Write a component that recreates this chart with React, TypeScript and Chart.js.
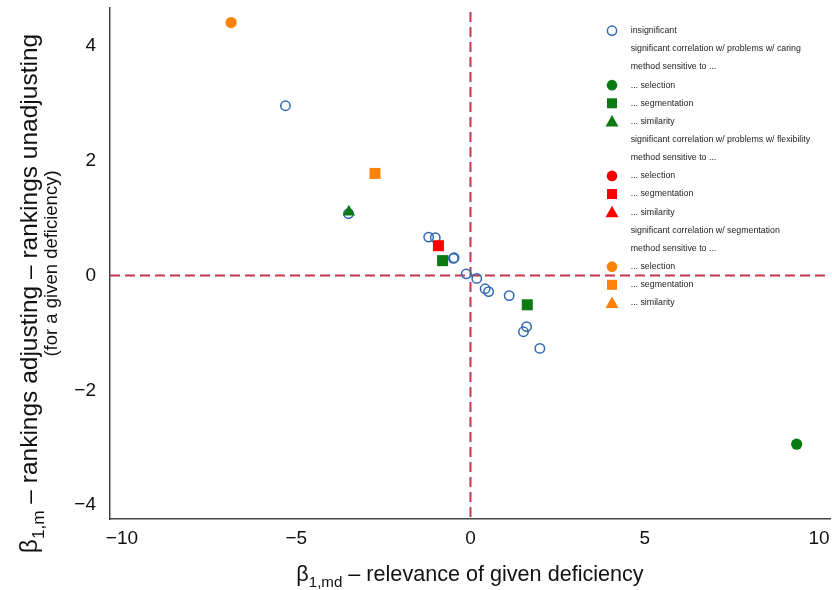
import { useEffect, useRef } from 'react';
import { Chart, registerables } from 'chart.js';

Chart.register(...registerables);

// ---- data ----
const xTickValues = [-10, -5, 0, 5, 10];
const yTickValues = [-4, -2, 0, 2, 4];

const insignificantX = [-5.31, -3.5, -1.2, -1.01, -0.49, -0.47, -0.12, 0.18, 0.42, 0.52, 1.11, 1.61, 1.52, 1.99];
const insignificantY = [2.96, 1.08, 0.67, 0.66, 0.3, 0.31, 0.03, -0.05, -0.23, -0.28, -0.35, -0.89, -0.98, -1.27];

const caringSelectionX = [9.36];
const caringSelectionY = [-2.94];
const caringSegmentationX = [-0.8, 1.63];
const caringSegmentationY = [0.26, -0.51];
const caringSimilarityX = [-3.49];
const caringSimilarityY = [1.11];

const flexSelectionX: number[] = [];
const flexSelectionY: number[] = [];
const flexSegmentationX = [-0.92];
const flexSegmentationY = [0.52];
const flexSimilarityX: number[] = [];
const flexSimilarityY: number[] = [];

const segSelectionX = [-6.87];
const segSelectionY = [4.41];
const segSegmentationX = [-2.74];
const segSegmentationY = [1.78];
const segSimilarityX: number[] = [];
const segSimilarityY: number[] = [];

const legendLabels = [
  'insignificant',
  'significant correlation w/ problems w/ caring',
  'method sensitive to ...',
  '... selection',
  '... segmentation',
  '... similarity',
  'significant correlation w/ problems w/ flexibility',
  'method sensitive to ...',
  '... selection',
  '... segmentation',
  '... similarity',
  'significant correlation w/ segmentation',
  'method sensitive to ...',
  '... selection',
  '... segmentation',
  '... similarity',
];
const legendMarkers = ['open', '', '', 'circle', 'square', 'triangle', '', '', 'circle', 'square', 'triangle', '', '', 'circle', 'square', 'triangle'];

// ---- styles ----
const FONT = '"Liberation Sans", Arial, Helvetica, sans-serif';
const BLUE = '#2F67B1';
const GREEN = '#0B7A12';
const RED = '#FF0000';
const ORANGE = '#FF8207';
const DASH = '#C4364C';
const AXIS = '#444444';
const legendColors = [BLUE, '', '', GREEN, GREEN, GREEN, '', '', RED, RED, RED, '', '', ORANGE, ORANGE, ORANGE];

const toPoints = (xs: number[], ys: number[]) => xs.map((x, i) => ({ x, y: ys[i] }));
const fmt = (v: number | string) => {
  const n = Number(v);
  return n < 0 ? '\u2212' + Math.abs(n) : String(n);
};

function drawMarker(ctx: CanvasRenderingContext2D, kind: string, color: string, x: number, y: number) {
  ctx.save();
  if (kind === 'open') {
    ctx.strokeStyle = color;
    ctx.lineWidth = 1.5;
    ctx.beginPath();
    ctx.arc(x, y, 4.6, 0, Math.PI * 2);
    ctx.stroke();
  } else if (kind === 'circle') {
    ctx.fillStyle = color;
    ctx.beginPath();
    ctx.arc(x, y, 5.3, 0, Math.PI * 2);
    ctx.fill();
  } else if (kind === 'square') {
    ctx.fillStyle = color;
    ctx.fillRect(x - 5, y - 5, 10, 10);
  } else if (kind === 'triangle') {
    ctx.fillStyle = color;
    ctx.beginPath();
    ctx.moveTo(x, y - 6.5);
    ctx.lineTo(x + 6.5, y + 5);
    ctx.lineTo(x - 6.5, y + 5);
    ctx.closePath();
    ctx.fill();
  }
  ctx.restore();
}

const refLinesPlugin = {
  id: 'refLines',
  beforeDatasetsDraw(chart: any) {
    const { ctx, chartArea, scales } = chart;
    const x0 = scales.x.getPixelForValue(0);
    const y0 = scales.y.getPixelForValue(0);
    ctx.save();
    ctx.strokeStyle = DASH;
    ctx.lineWidth = 2;
    ctx.setLineDash([10, 5]);
    ctx.beginPath();
    ctx.moveTo(chartArea.left, y0);
    ctx.lineTo(chartArea.right, y0);
    ctx.stroke();
    ctx.beginPath();
    ctx.moveTo(x0, chartArea.top + 4);
    ctx.lineTo(x0, chartArea.bottom);
    ctx.stroke();
    ctx.restore();
  },
};

function drawSubLabel(ctx: CanvasRenderingContext2D, main: string, sub: string, rest: string, cx: number, baseY: number, fs: number) {
  const big = `${fs}px ${FONT}`;
  const small = `${fs * 0.7}px ${FONT}`;
  ctx.font = big;
  const w1 = ctx.measureText(main).width;
  const w3 = ctx.measureText(rest).width;
  ctx.font = small;
  const w2 = ctx.measureText(sub).width;
  let x = cx - (w1 + w2 + w3) / 2;
  ctx.textAlign = 'left';
  ctx.textBaseline = 'alphabetic';
  ctx.font = big;
  ctx.fillText(main, x, baseY);
  x += w1;
  ctx.font = small;
  ctx.fillText(sub, x, baseY + fs * 0.3);
  x += w2;
  ctx.font = big;
  ctx.fillText(rest, x, baseY);
}

const titlesPlugin = {
  id: 'titles',
  afterDraw(chart: any) {
    const { ctx, chartArea } = chart;
    const cx = (chartArea.left + chartArea.right) / 2;
    const cy = (chartArea.top + chartArea.bottom) / 2;
    ctx.save();
    ctx.fillStyle = '#111';
    drawSubLabel(ctx, '\u03B2', '1,md', ' \u2013 relevance of given deficiency', cx, 581, 21.6);
    ctx.restore();

    ctx.save();
    ctx.fillStyle = '#111';
    ctx.translate(37, cy + 30);
    ctx.rotate(-Math.PI / 2);
    drawSubLabel(ctx, '\u03B2', '1,m', ' \u2013 rankings adjusting \u2013 rankings unadjusting', 0, 0, 24.5);
    ctx.restore();

    ctx.save();
    ctx.fillStyle = '#111';
    ctx.translate(57, cy);
    ctx.rotate(-Math.PI / 2);
    ctx.font = `18.5px ${FONT}`;
    ctx.textAlign = 'center';
    ctx.textBaseline = 'alphabetic';
    ctx.fillText('(for a given deficiency)', 0, 0);
    ctx.restore();
  },
};

const legendPlugin = {
  id: 'customLegend',
  afterDraw(chart: any) {
    const { ctx } = chart;
    ctx.save();
    ctx.font = `8.8px ${FONT}`;
    ctx.textAlign = 'left';
    ctx.textBaseline = 'middle';
    legendLabels.forEach((label, i) => {
      const y = 30.7 + i * 18.15;
      if (legendMarkers[i]) drawMarker(ctx, legendMarkers[i], legendColors[i], 612, y);
      ctx.fillStyle = '#222';
      ctx.fillText(label, 630.7, y);
    });
    ctx.restore();
  },
};

const zeroPadding = (s: any) => {
  s.paddingTop = 0;
  s.paddingBottom = 0;
  s.paddingLeft = 0;
  s.paddingRight = 0;
};

export default function App() {
  const ref = useRef<HTMLCanvasElement | null>(null);

  useEffect(() => {
    if (!ref.current) return;
    const filled = (label: string, xs: number[], ys: number[], color: string, style: string, radius: number) => ({
      label,
      data: toPoints(xs, ys),
      pointStyle: style,
      pointRadius: radius,
      pointBackgroundColor: color,
      pointBorderColor: color,
      pointBorderWidth: 0,
      showLine: false,
      order: 1,
    });
    const chart = new Chart(ref.current, {
      type: 'scatter',
      data: {
        datasets: [
          {
            label: 'insignificant',
            data: toPoints(insignificantX, insignificantY),
            pointStyle: 'circle',
            pointRadius: 4.7,
            pointBackgroundColor: 'rgba(0,0,0,0)',
            pointBorderColor: BLUE,
            pointBorderWidth: 1.5,
            showLine: false,
            order: 5,
          },
          filled('caring selection', caringSelectionX, caringSelectionY, GREEN, 'circle', 5.6),
          filled('caring segmentation', caringSegmentationX, caringSegmentationY, GREEN, 'rect', 7.8),
          filled('caring similarity', caringSimilarityX, caringSimilarityY, GREEN, 'triangle', 7.2),
          filled('flexibility selection', flexSelectionX, flexSelectionY, RED, 'circle', 5.6),
          filled('flexibility segmentation', flexSegmentationX, flexSegmentationY, RED, 'rect', 7.8),
          filled('flexibility similarity', flexSimilarityX, flexSimilarityY, RED, 'triangle', 7.2),
          filled('segmentation selection', segSelectionX, segSelectionY, ORANGE, 'circle', 5.6),
          filled('segmentation segmentation', segSegmentationX, segSegmentationY, ORANGE, 'rect', 7.8),
          filled('segmentation similarity', segSimilarityX, segSimilarityY, ORANGE, 'triangle', 7.2),
        ] as any,
      },
      options: {
        animation: false,
        responsive: false,
        devicePixelRatio: 1,
        events: [],
        layout: { autoPadding: false, padding: { top: 8, right: 2, left: 0, bottom: 0 } },
        plugins: { legend: { display: false }, tooltip: { enabled: false } },
        scales: {
          x: {
            type: 'linear',
            min: -10.344,
            max: 10.316,
            afterBuildTicks: (s: any) => {
              s.ticks = xTickValues.map((v) => ({ value: v }));
            },
            afterFit: (s: any) => {
              s.height = 71;
              zeroPadding(s);
            },
            grid: { display: false, drawTicks: false },
            border: { display: true, color: AXIS, width: 1.5 },
            ticks: {
              font: { family: FONT, size: 19 },
              color: '#111',
              padding: 8,
              maxRotation: 0,
              autoSkip: false,
              callback: fmt,
            },
          },
          y: {
            type: 'linear',
            min: -4.244,
            max: 4.664,
            afterBuildTicks: (s: any) => {
              s.ticks = yTickValues.map((v) => ({ value: v }));
            },
            afterFit: (s: any) => {
              s.width = 110;
              zeroPadding(s);
            },
            grid: { display: false, drawTicks: false },
            border: { display: true, color: AXIS, width: 1.5 },
            ticks: {
              font: { family: FONT, size: 19 },
              color: '#111',
              padding: 14,
              autoSkip: false,
              callback: fmt,
            },
          },
        },
      } as any,
      plugins: [refLinesPlugin, titlesPlugin, legendPlugin],
    });
    return () => chart.destroy();
  }, []);

  return (
    <div style={{ position: 'fixed', left: 0, top: 0, width: 832, height: 590, background: '#fff' }}>
      <canvas ref={ref} width={832} height={590} style={{ width: 832, height: 590, display: 'block' }} />
    </div>
  );
}
